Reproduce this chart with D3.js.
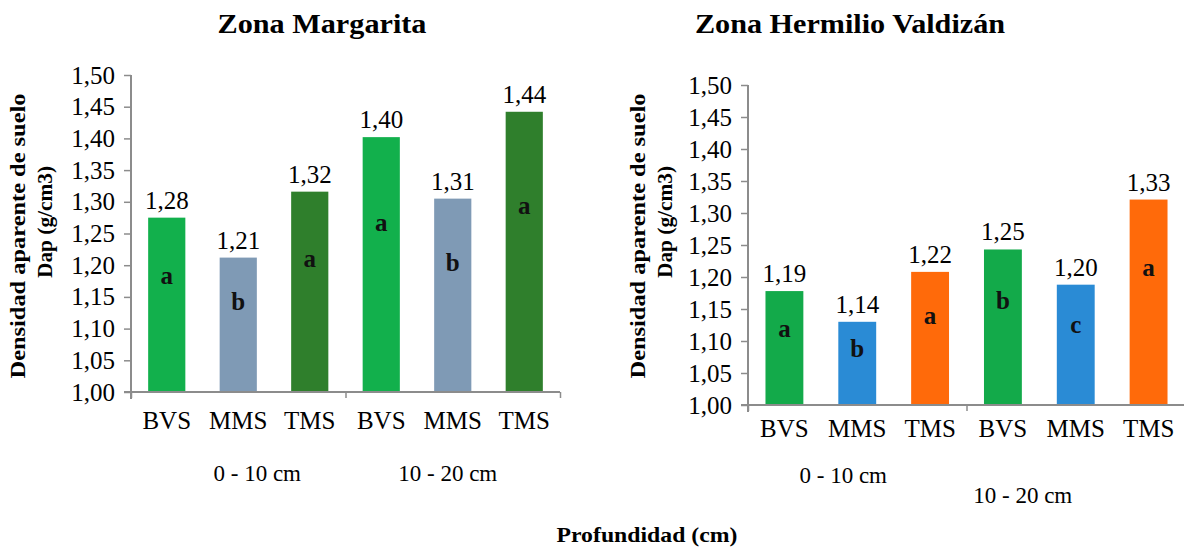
<!DOCTYPE html>
<html><head><meta charset="utf-8">
<script src="https://cdn.jsdelivr.net/npm/d3@7"></script>
<style>
body{margin:0;background:#fff}
svg text{font-family:"Liberation Serif","Times New Roman",serif;fill:#000}
</style>
</head><body>
<svg id="chart" width="1184" height="549" font-family="Liberation Serif, Times New Roman, serif"></svg>
<script>
// ---------- data ----------
const categories = ["BVS", "MMS", "TMS", "BVS", "MMS", "TMS"];
const depthGroups = ["0 - 10 cm", "10 - 20 cm"];
const yTickValues = [1.00, 1.05, 1.10, 1.15, 1.20, 1.25, 1.30, 1.35, 1.40, 1.45, 1.50];
const yTickLabels = ["1,00", "1,05", "1,10", "1,15", "1,20", "1,25", "1,30", "1,35", "1,40", "1,45", "1,50"];

const margaritaValues  = [1.275, 1.212, 1.316, 1.402, 1.305, 1.442];
const margaritaLabels  = ["1,28", "1,21", "1,32", "1,40", "1,31", "1,44"];
const margaritaLetters = ["a", "b", "a", "a", "b", "a"];

const hermilioValues  = [1.178, 1.130, 1.208, 1.243, 1.188, 1.321];
const hermilioLabels  = ["1,19", "1,14", "1,22", "1,25", "1,20", "1,33"];
const hermilioLetters = ["a", "b", "a", "b", "c", "a"];

const margaritaColors = ["#12b04c", "#7f9ab5", "#2f7f2c"];
const hermilioColors  = ["#13aa4a", "#2a8bd5", "#ff6a0a"];

// ---------- layout ----------
const svg = d3.select("#chart");
const SERIF = '"Liberation Serif","Times New Roman",serif';

const panels = [
  { title: "Zona Margarita", titleX: 322, titleW: 209,
    values: margaritaValues, labels: margaritaLabels, letters: margaritaLetters, colors: margaritaColors,
    x0: 131, x1: 560, yTop: 75, yBase: 392,
    catY: 429, groupY: [481, 481], groupDx: [19, -5],
    yt1X: 25, yt2X: 52, ytC: 236 },
  { title: "Zona Hermilio Valdizán", titleX: 850, titleW: 310,
    values: hermilioValues, labels: hermilioLabels, letters: hermilioLetters, colors: hermilioColors,
    x0: 748, x1: 1185, yTop: 85, yBase: 405,
    catY: 437, groupY: [483, 503], groupDx: [-14, -53],
    yt1X: 645, yt2X: 672, ytC: 236 }
];

panels.forEach(p => {
  const g = svg.append("g");
  const x = d3.scaleBand().domain(d3.range(categories.length)).range([p.x0, p.x1])
    .paddingInner(0.48).paddingOuter(0.24);
  const y = d3.scaleLinear().domain([1.0, 1.5]).range([p.yBase, p.yTop]);

  // title
  g.append("text").attr("x", p.titleX).attr("y", 33).attr("text-anchor", "middle")
    .attr("font-size", 27).attr("font-weight", "bold")
    .attr("textLength", p.titleW).attr("lengthAdjust", "spacingAndGlyphs")
    .text(p.title);

  // y axis
  const yAxis = d3.axisLeft(y).tickValues(yTickValues)
    .tickFormat((d, i) => yTickLabels[i]).tickSize(7).tickSizeOuter(0).tickPadding(9);
  const ya = g.append("g").attr("transform", `translate(${p.x0},0)`).call(yAxis)
    .attr("font-family", null).attr("font-size", null);
  ya.select(".domain").remove();
  ya.selectAll(".tick line").attr("stroke", "#8c8c8c").attr("stroke-width", 1.5);
  ya.selectAll(".tick text").attr("font-size", 25)
    .style("font-family", SERIF).attr("fill", "#000");
  g.append("line").attr("x1", p.x0).attr("x2", p.x0).attr("y1", p.yTop).attr("y2", p.yBase + 7)
    .attr("stroke", "#8c8c8c").attr("stroke-width", 2);

  // bars
  g.selectAll("rect.bar").data(p.values).join("rect").attr("class", "bar")
    .attr("x", (d, i) => x(i)).attr("width", x.bandwidth())
    .attr("y", d => y(d)).attr("height", d => y(1.0) - y(d))
    .attr("fill", (d, i) => p.colors[i % 3]);

  // x axis line + group boundary ticks
  const gb = d3.scaleLinear().domain([0, 2]).range([p.x0, p.x1]);
  const xa = g.append("g").attr("transform", `translate(0,${p.yBase})`)
    .call(d3.axisBottom(gb).tickValues([0, 1, 2]).tickFormat("").tickSize(6).tickSizeOuter(0));
  xa.select(".domain").remove();
  xa.selectAll(".tick line").attr("stroke", "#8c8c8c").attr("stroke-width", 1.5);
  g.append("line").attr("x1", p.x0 - 7).attr("x2", p.x1).attr("y1", p.yBase).attr("y2", p.yBase)
    .attr("stroke", "#8c8c8c").attr("stroke-width", 2);

  // value labels
  g.selectAll("text.val").data(p.values).join("text").attr("class", "val")
    .attr("x", (d, i) => x(i) + x.bandwidth() / 2).attr("y", d => y(d) - 9)
    .attr("text-anchor", "middle").attr("font-size", 25).style("font-family", SERIF)
    .text((d, i) => p.labels[i]);

  // significance letters
  g.selectAll("text.let").data(p.values).join("text").attr("class", "let")
    .attr("x", (d, i) => x(i) + x.bandwidth() / 2)
    .attr("y", d => y(1.0) - 0.66 * (y(1.0) - y(d)) + 7)
    .attr("text-anchor", "middle").attr("font-size", 25).attr("font-weight", "bold")
    .style("font-family", SERIF).style("fill", "#111")
    .text((d, i) => p.letters[i]);

  // category labels
  g.selectAll("text.cat").data(categories).join("text").attr("class", "cat")
    .attr("x", (d, i) => x(i) + x.bandwidth() / 2).attr("y", p.catY)
    .attr("text-anchor", "middle").attr("font-size", 25).style("font-family", SERIF)
    .text(d => d);

  // depth group labels
  depthGroups.forEach((lab, k) => {
    const cx = x(k * 3 + 1) + x.bandwidth() / 2 + p.groupDx[k];
    g.append("text").attr("x", cx).attr("y", p.groupY[k]).attr("text-anchor", "middle")
      .attr("font-size", 23).style("font-family", SERIF).text(lab);
  });

  // y axis title (two lines)
  g.append("text").attr("transform", `translate(${p.yt1X},${p.ytC}) rotate(-90)`)
    .attr("text-anchor", "middle").attr("font-size", 20).attr("font-weight", "bold")
    .attr("textLength", 285).attr("lengthAdjust", "spacingAndGlyphs")
    .text("Densidad aparente de suelo");
  g.append("text").attr("transform", `translate(${p.yt2X},${p.ytC - 14}) rotate(-90)`)
    .attr("text-anchor", "middle").attr("font-size", 20).attr("font-weight", "bold")
    .attr("textLength", 112).attr("lengthAdjust", "spacingAndGlyphs")
    .text("Dap (g/cm3)");
});

// shared x title
svg.append("text").attr("x", 647).attr("y", 542).attr("text-anchor", "middle")
  .attr("font-size", 22).attr("font-weight", "bold")
  .attr("textLength", 181).attr("lengthAdjust", "spacingAndGlyphs")
  .text("Profundidad (cm)");
</script>
</body></html>
